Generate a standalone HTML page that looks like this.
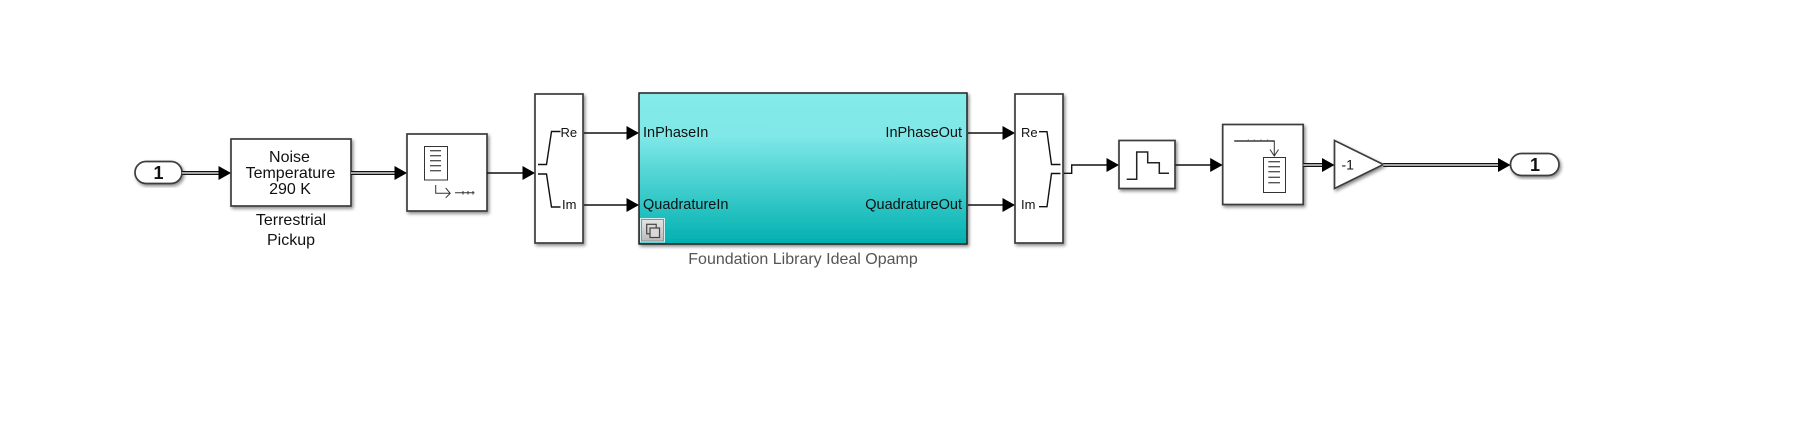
<!DOCTYPE html>
<html><head><meta charset="utf-8"><style>
html,body{margin:0;padding:0;background:#fff;width:1815px;height:443px;overflow:hidden}
svg{display:block}
text{font-family:"Liberation Sans",sans-serif;fill:#111}
.b{fill:#fff;stroke:#3c3c3c;stroke-width:1.7;filter:url(#s)}
.l{fill:none;stroke:#111;stroke-width:1.4}
.d{fill:none;stroke:#111;stroke-width:4}
.w{fill:none;stroke:#fff;stroke-width:1.2}
.a{fill:#000}
.g{stroke:#555;stroke-width:1.4;fill:none}
</style></head><body>
<svg width="1815" height="443" viewBox="0 0 1815 443" xmlns="http://www.w3.org/2000/svg">
<defs>
<filter id="s" x="-20%" y="-20%" width="140%" height="140%"><feDropShadow dx="1.5" dy="2" stdDeviation="1.5" flood-color="#000" flood-opacity=".45"/></filter>
<linearGradient id="t" x1="0" y1="0" x2="0" y2="1">
<stop offset="0" stop-color="#84eaea"/><stop offset=".28" stop-color="#80e8e8"/><stop offset="1" stop-color="#00b0b0"/>
</linearGradient>
<linearGradient id="btn" x1="0" y1="0" x2="0" y2="1"><stop offset="0" stop-color="#e4e4e4"/><stop offset="1" stop-color="#bcbcbc"/></linearGradient>
</defs>

<!-- Blocks -->
<rect class="b" x="135" y="161.500" width="47" height="22" rx="11"/>
<text x="158.500" y="179" font-size="18" font-weight="bold" text-anchor="middle">1</text>

<rect class="b" x="231" y="139" width="120" height="67"/>
<text x="289.500" y="162" font-size="16" text-anchor="middle">Noise</text>
<text x="290.500" y="178" font-size="16" text-anchor="middle">Temperature</text>
<text x="290" y="194" font-size="16" text-anchor="middle">290 K</text>
<text x="291" y="225" font-size="16" text-anchor="middle">Terrestrial</text>
<text x="291" y="245" font-size="16" text-anchor="middle">Pickup</text>

<rect class="b" x="407" y="134" width="80" height="77"/>
<rect x="424.500" y="146.500" width="23" height="33.500" fill="#fff" stroke="#333" stroke-width="1"/>
<path class="g" d="M430 150.700h11M430 155.700h11M430 160.700h11M430 165.700h11M430 170.700h11"/>
<path d="M435.700 185v8.300h14M445.700 188l4.500 5.300-4.500 4.500" fill="none" stroke="#333" stroke-width="1"/>
<path d="M455 192.700h19.500" stroke="#333" stroke-width="1" fill="none"/>
<path d="M463 191v3.500M468 191v3.500M473 191v3.500" stroke="#333" stroke-width="1" fill="none"/>

<rect class="b" x="535" y="94" width="48" height="149"/>
<text x="560.500" y="137" font-size="13">Re</text>
<text x="562" y="209" font-size="13">Im</text>
<path class="l" d="M538 164.500h8.500l5-33h9M538 174h8.500l5 33h9" stroke-width="1.500"/>

<rect x="639" y="93" width="328" height="151" fill="url(#t)" stroke="#222" stroke-width="1.500" filter="url(#s)"/>
<text x="643" y="137" font-size="14.500">InPhaseIn</text>
<text x="643" y="209" font-size="14.500">QuadratureIn</text>
<text x="962" y="137" font-size="14.500" text-anchor="end">InPhaseOut</text>
<text x="962" y="209" font-size="14.500" text-anchor="end">QuadratureOut</text>
<rect x="640" y="218" width="25" height="24.500" fill="#d4efef"/>
<rect x="641.500" y="219.500" width="22" height="21.500" fill="url(#btn)" stroke="#8f8f8f" stroke-width="1"/>
<rect x="646.700" y="224.300" width="9.500" height="9.500" fill="none" stroke="#444" stroke-width="1.200"/>
<rect x="650" y="228" width="9.500" height="9.500" fill="#d8d8d8" stroke="#444" stroke-width="1.200"/>
<text x="803" y="264" font-size="16" text-anchor="middle" style="fill:#555">Foundation Library Ideal Opamp</text>

<rect class="b" x="1015" y="94" width="48" height="149"/>
<text x="1021" y="137" font-size="13">Re</text>
<text x="1021" y="209" font-size="13">Im</text>
<path class="l" d="M1039 131.700h8l4.500 32.800h9M1039 206.700h8l4.500-33.200h9" stroke-width="1.500"/>

<rect class="b" x="1119" y="140.500" width="56" height="48"/>
<path d="M1126.700 179.300h10V152h11v10.700h11.600v10.600H1169" fill="none" stroke="#222" stroke-width="1.500"/>

<rect class="b" x="1222.700" y="124.500" width="80.500" height="80"/>
<path d="M1234.300 141h40v15M1270 149.500l4.300 6.500 4.200-6.500" fill="none" stroke="#333" stroke-width="1"/>
<path d="M1234.300 141h40" fill="none" stroke="#111" stroke-width="1.200"/>
<rect x="1263.500" y="157.500" width="22" height="35" fill="#fff" stroke="#333" stroke-width="1"/>
<path class="g" d="M1268.300 161.700H1280M1268.300 166.700H1280M1268.300 171.700H1280M1268.300 177.300H1280M1268.300 182.700H1280"/>
<path d="M1248.300 139.500v1.500M1254.300 139.500v1.500M1261 139.500v1.500M1267.700 139.500v1.500" stroke="#555" stroke-width="1"/>

<path class="b" d="M1334.500 140.500L1383.300 164.500L1334.500 188.500Z"/>
<text x="1341.500" y="169.500" font-size="14">-1</text>

<rect class="b" x="1510.500" y="153.500" width="48.500" height="22" rx="11"/>
<text x="1535" y="171" font-size="18" font-weight="bold" text-anchor="middle">1</text>

<!-- Signals -->
<path class="d" d="M182 173H222"/><path class="w" d="M182 173H222"/>
<path class="a" d="M218.500 166L231 173L218.500 180Z"/>
<path class="d" d="M351 173H398"/><path class="w" d="M351 173H398"/>
<path class="a" d="M394.500 166L407 173L394.500 180Z"/>
<path class="l" d="M487 173H526"/>
<path class="a" d="M522.500 166L535 173L522.500 180Z"/>
<path class="l" d="M584 133H630"/>
<path class="a" d="M626.500 126L639 133L626.500 140Z"/>
<path class="l" d="M584 205H630"/>
<path class="a" d="M626.500 198L639 205L626.500 212Z"/>
<path class="l" d="M968 133H1006"/>
<path class="a" d="M1002.500 126L1015 133L1002.500 140Z"/>
<path class="l" d="M968 205H1006"/>
<path class="a" d="M1002.500 198L1015 205L1002.500 212Z"/>
<path class="l" d="M1064 173.300H1071.700V165H1110"/>
<path class="a" d="M1106.500 158L1119 165L1106.500 172Z"/>
<path class="l" d="M1175.500 165H1214"/>
<path class="a" d="M1210.200 158L1222.700 165L1210.200 172Z"/>
<path class="d" d="M1303.500 165H1326"/><path class="w" d="M1303.500 165H1326"/>
<path class="a" d="M1322 158L1334.500 165L1322 172Z"/>
<path class="d" d="M1383.300 165H1502"/><path class="w" d="M1383.300 165H1502"/>
<path class="a" d="M1498 158L1510.500 165L1498 172Z"/>
</svg>
</body></html>
